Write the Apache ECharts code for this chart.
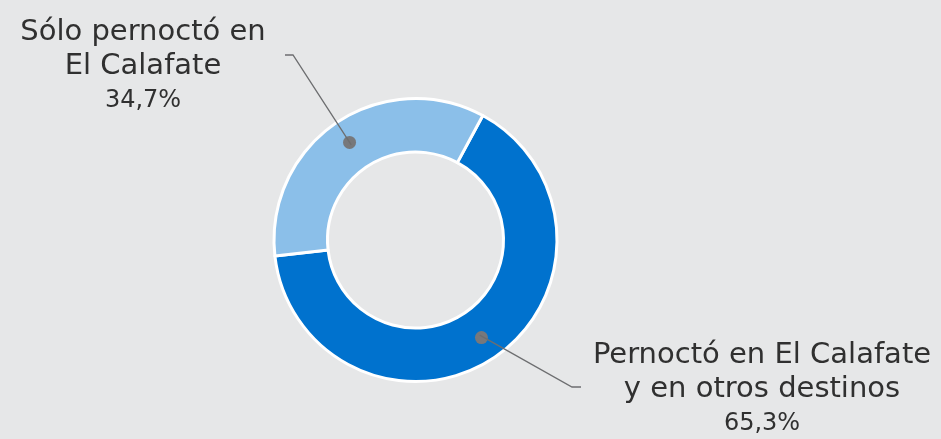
<!DOCTYPE html>
<html><head><meta charset="utf-8">
<script src="https://cdn.jsdelivr.net/npm/echarts@6/dist/echarts.min.js"></script>
<style>html,body{margin:0;padding:0;background:#e6e7e8}#c{width:941px;height:439px}</style>
</head><body><div id="c"></div>
<script>
const categories = ['Pernoctó en El Calafate\ny en otros destinos', 'Sólo pernoctó en\nEl Calafate'];
const values = [65.3, 34.7];
const colors = ['#0072ce', '#8bbfe9'];

const FONT = 'DejaVu Sans';
const TEXT = '#303030';
const center = [415.5, 240];
const ringR = [88, 141.5];
const dotR = (ringR[0] + ringR[1]) / 2;
const labelPos = [
  {x: 762, y: 338, bend: [572, 387], end: [581, 387]},
  {x: 143, y: 15, bend: [293, 55], end: [285, 55]}
];

const chart = echarts.init(document.getElementById('c'));
const data = categories.map((c, i) => ({name: c, value: values[i], itemStyle: {color: colors[i]}}));
const ghost = categories.map((c, i) => ({name: c, value: values[i]}));

chart.setOption({
  backgroundColor: '#e6e7e8',
  animation: false,
  series: [
    {
      type: 'pie', center: center, radius: ringR, startAngle: 61.6, clockwise: true,
      silent: true, z: 2, avoidLabelOverlap: false,
      data: data,
      itemStyle: {borderColor: '#ffffff', borderWidth: 3},
      label: {show: true, position: 'inside', formatter: '{d|}',
        rich: {d: {width: 13, height: 13, borderRadius: 7, backgroundColor: '#77787b'}}},
      labelLine: {show: false},
      emphasis: {disabled: true}
    },
    {
      type: 'pie', center: center, radius: [0, dotR], startAngle: 61.6, clockwise: true,
      silent: true, z: 3, avoidLabelOverlap: false,
      data: ghost,
      itemStyle: {color: 'rgba(0,0,0,0)', borderWidth: 0},
      label: {
        show: true, position: 'outside',
        formatter: function (p) {
          const lines = p.name.split('\n').map(l => '{n|' + l + '}');
          return lines.join('\n') + '\n{p|' + p.value.toFixed(1).replace('.', ',') + '%}';
        },
        rich: {
          n: {fontSize: 29, lineHeight: 34, fontFamily: FONT, color: TEXT, align: 'center'},
          p: {fontSize: 24, lineHeight: 35, fontFamily: FONT, color: TEXT, align: 'center'}
        }
      },
      labelLine: {show: true, length: 60, length2: 10, lineStyle: {color: '#6d6e70', width: 1.3}},
      labelLayout: function (p) {
        const L = labelPos[p.dataIndex];
        const s = p.labelLinePoints ? p.labelLinePoints[0] : L.bend;
        return {x: L.x, y: L.y, align: 'center', verticalAlign: 'top',
          labelLinePoints: [s, L.bend, L.end]};
      },
      emphasis: {disabled: true}
    }
  ]
});
</script></body></html>
